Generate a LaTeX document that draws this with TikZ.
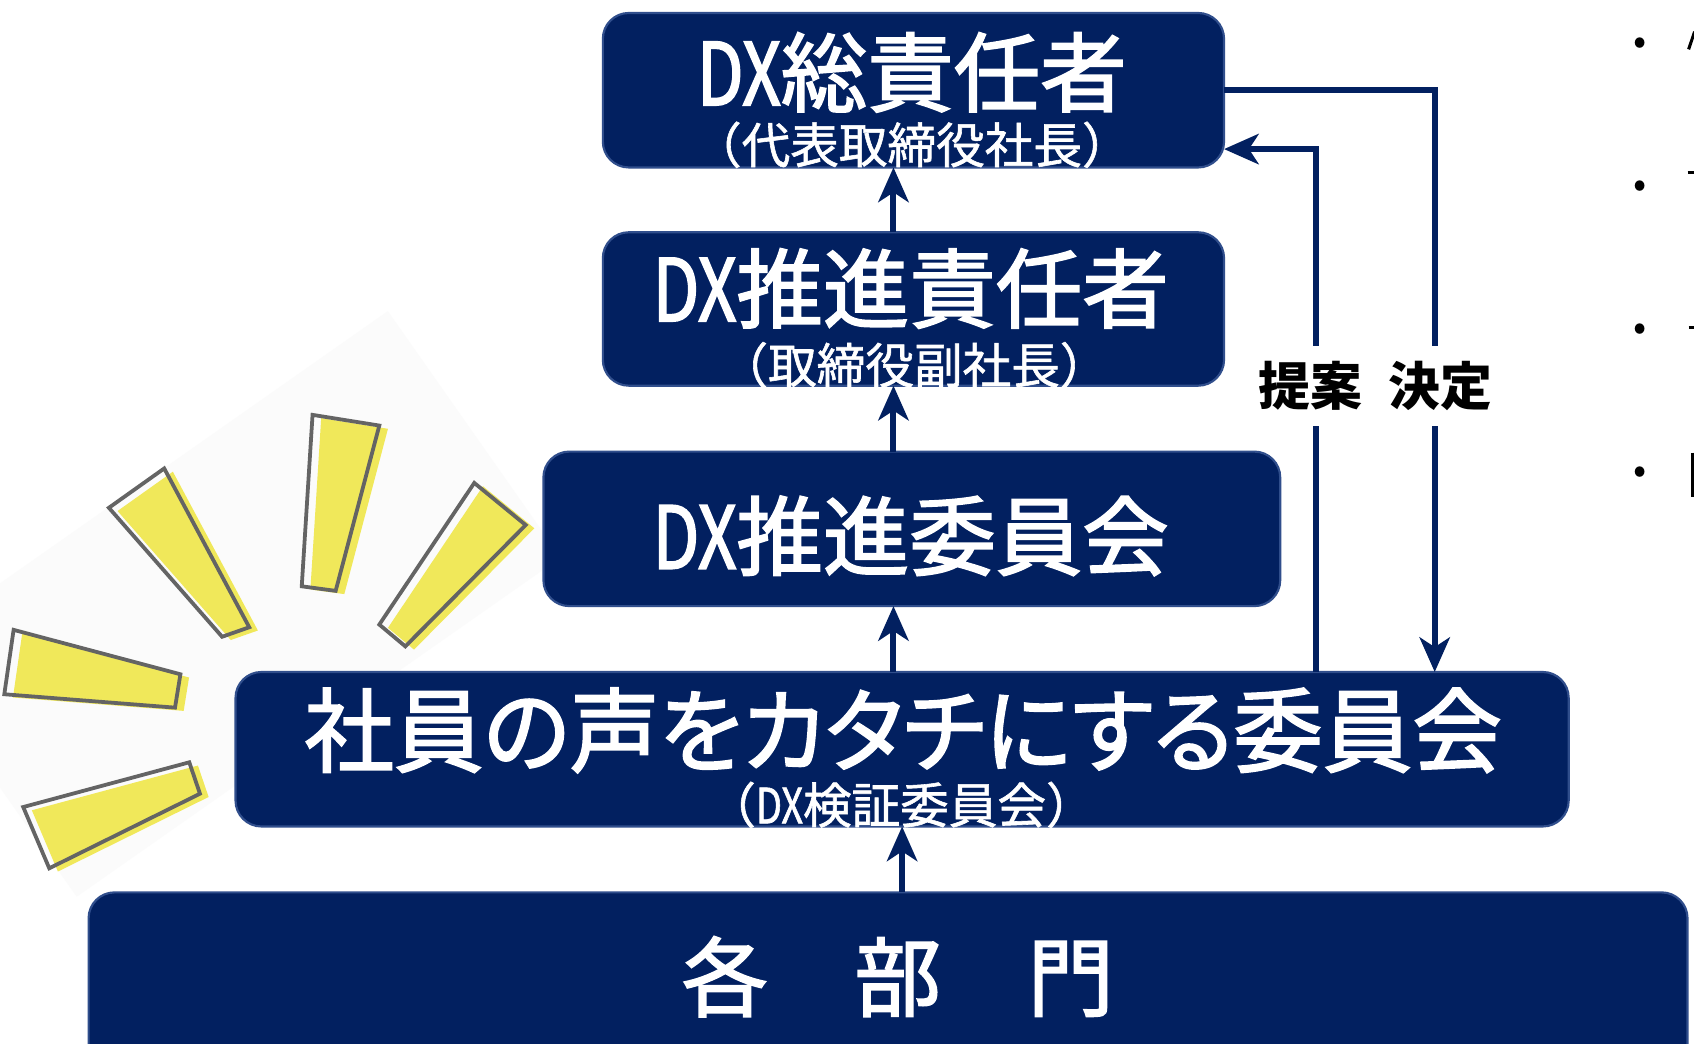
\documentclass[tikz,border=0pt]{standalone}
\usepackage{fontspec}
\usetikzlibrary{arrows.meta}
\newfontfamily\jp{Noto Sans CJK JP}
\newfontfamily\jpt[FakeBold=2]{Noto Sans CJK JP}
\newfontfamily\jptn[FakeBold=2,FakeStretch=0.78]{Noto Sans CJK JP}
\newfontfamily\jptp[FakeBold=2,FakeStretch=0.975,RawFeature=+palt]{Noto Sans CJK JP}
\newfontfamily\jps[FakeBold=1.2]{Noto Sans CJK JP}
\newfontfamily\jpsn[FakeBold=1.2,FakeStretch=0.78]{Noto Sans CJK JP}
\definecolor{navy}{RGB}{2,32,96}
\definecolor{navyedge}{RGB}{48,78,140}
\definecolor{rayfill}{RGB}{240,232,90}
\definecolor{raygray}{RGB}{100,100,100}
\definecolor{faint}{RGB}{251,251,251}
\newcommand\myray[4]{%
  \fill[rayfill,shift={(8,3)}] #1--#2--#3--#4--cycle;
  \draw[raygray,line width=3.5pt,line join=miter] #1--#2--#3--#4--cycle;}
\begin{document}
\begin{tikzpicture}[x=1pt,y=-1pt,
  box/.style={draw=navyedge,line width=2pt,fill=navy,rounded corners=24pt,inner sep=0pt,outer sep=0pt},
  big/.style={text=white,font=\jpt\fontsize{80}{80}\selectfont,inner sep=0pt},
  sub/.style={text=white,font=\jps\fontsize{45}{45}\selectfont,inner sep=0pt},
  conn/.style={draw=navy,line width=5.5pt,-{Stealth[length=32pt,width=28pt,inset=9pt]}},
  bullet/.style={text=black,font=\jp\fontsize{36}{36}\selectfont,inner sep=0pt},
]
\useasboundingbox (0,0) rectangle (1568,966);
\fill[white] (0,0) rectangle (1568,966);
% faint background behind the rays
\fill[faint] (0,540) -- (359,288) -- (519,516) -- (71,830) -- (0,729) -- cycle;
% rays
\myray{(100.8,470)}{(152,433.6)}{(230.7,580.6)}{(205.6,589.4)}
\myray{(289.3,384)}{(351.1,393.9)}{(310.7,546.9)}{(279.3,542.7)}
\myray{(439,447)}{(486.6,486)}{(375.2,598.3)}{(351.1,578.1)}
\myray{(12.6,583)}{(167,624.1)}{(162,655)}{(4,642.6)}
\myray{(21.5,747)}{(175.2,705.6)}{(185.1,734.7)}{(45.6,803.7)}

% boxes
\node[box,minimum width=575pt,minimum height=143pt] (b1) at (845.5,83.5) {};
\node[box,minimum width=575pt,minimum height=142pt] (b2) at (845.5,286) {};
\node[box,minimum width=682pt,minimum height=143pt] (b3) at (844,489.5) {};
\node[box,minimum width=1234pt,minimum height=143pt] (b4) at (835,693.5) {};
\node[box,minimum width=1480pt,minimum height=190pt] (b5) at (822,921) {};

% texts
\node[big] (t1) at (844,67) {{\jptn DX}総責任者};
\node[sub] (s1) at (844,134) {（代表取締役社長）};
\node[big] (t2) at (843,267) {{\jptn DX}推進責任者};
\node[sub] (s2) at (846,338) {（取締役副社長）};
\node[big] (t3) at (843,496) {{\jptn DX}推進委員会};
\node[big,font=\jptp\fontsize{85}{85}\selectfont] (t4) at (836,676) {社員の声をカタチにする委員会};
\node[sub] (s4) at (834,745) {（{\jpsn DX}検証委員会）};
\node[big] (t5) at (831,904) {各　部　門};

% vertical arrows
\coordinate (ax) at (827,0);
\coordinate (bx) at (835,0);
\draw[conn] (b2.north -| ax) -- (b1.south -| ax);
\draw[conn] (b3.north -| ax) -- (b2.south -| ax);
\draw[conn] (b4.north -| ax) -- (b3.south -| ax);
\draw[conn] (b5.north -| bx) -- (b4.south -| bx);

% proposal / decision loop
\coordinate (kx) at (1328,0);
\coordinate (tx) at (1218,0);
\coordinate (ty) at (0,138);
\draw[conn] (b1.east) -| (b4.north -| kx);
\draw[conn] (b4.north -| tx) |- (b1.east |- ty);
\node[fill=white,inner xsep=2pt,inner ysep=14pt,text=black,
      font=\jp\bfseries\fontsize{48}{48}\selectfont] (lab) at (1273,357) {提案\hspace{24pt}決定};

% clipped bullet list at right edge
\node[bullet] (p1) at (1518,43) {•};
\node[bullet] (p2) at (1518,175) {•};
\node[bullet] (p3) at (1518,307) {•};
\node[bullet] (p4) at (1518,440) {•};
\draw[black,line width=2.8pt] (1568.5,29.3) -- (1563,45.7);
\draw[black,line width=3pt] (1562,159.5) -- (1570,159.5);
\draw[black,line width=3pt] (1563,303) -- (1570,303);
\draw[black,line width=2.5pt] (1566.5,419) -- (1566.5,460);
\end{tikzpicture}
\end{document}
